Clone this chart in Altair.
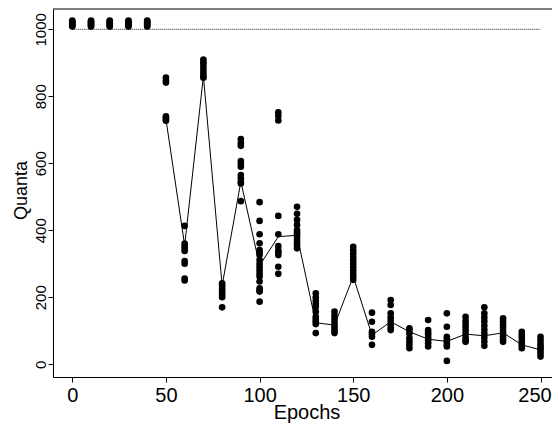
import altair as alt
import pandas as pd

# ---- data ----
epochs = [0, 10, 20, 30, 40, 50, 60, 70, 80, 90, 100, 110, 120, 130, 140,
          150, 160, 170, 180, 190, 200, 210, 220, 230, 240, 250]

quanta_runs = [
    [1008, 1011, 1014, 1017, 1020, 1023, 1026],
    [1008, 1011, 1014, 1017, 1020, 1023, 1026],
    [1008, 1011, 1014, 1017, 1020, 1023, 1026],
    [1008, 1011, 1014, 1017, 1020, 1023, 1026],
    [1008, 1011, 1014, 1017, 1020, 1023, 1026],
    [856, 848, 841, 740, 735, 731, 727],
    [413, 360, 352, 345, 338, 308, 300, 256, 250],
    [910, 902, 895, 885, 876, 868, 860, 855],
    [242, 235, 228, 221, 214, 207, 200, 170],
    [672, 660, 652, 607, 598, 590, 565, 555, 545, 540, 487],
    [484, 428, 388, 361, 341, 333, 326, 311, 300, 290, 280, 270, 262, 247, 227, 220, 217, 187],
    [752, 742, 728, 443, 388, 353, 340, 333, 326, 291, 270],
    [470, 449, 431, 416, 401, 394, 388, 381, 371, 362, 355, 346],
    [212, 200, 190, 180, 172, 157, 142, 135, 128, 120, 93],
    [157, 145, 135, 125, 115, 108, 100, 93],
    [351, 340, 330, 320, 310, 300, 290, 280, 270, 262, 252],
    [154, 127, 97, 90, 82, 58],
    [192, 177, 152, 140, 130, 120, 110, 102],
    [107, 100, 92, 78, 68, 58, 48],
    [132, 102, 95, 88, 80, 72, 63, 53],
    [152, 112, 82, 75, 68, 60, 53, 10],
    [142, 130, 120, 110, 100, 90, 80, 72, 67],
    [170, 152, 140, 128, 115, 103, 92, 80, 68, 55],
    [137, 128, 118, 110, 100, 92, 84, 75, 67],
    [97, 88, 80, 70, 62, 55, 48],
    [82, 72, 62, 55, 48, 40, 32, 23],
]

line_epochs = [50, 60, 70, 80, 90, 100, 110, 120, 130, 140, 150, 160, 170,
               180, 190, 200, 210, 220, 230, 240, 250]
line_values = [732, 355, 860, 235, 545, 295, 381, 385, 124, 117, 262, 87, 127,
               97, 75, 68, 90, 85, 94, 58, 43]

ref_level = 1000
ref_start, ref_end = 0, 250

x_ticks = [0, 50, 100, 150, 200, 250]
y_ticks = [0, 200, 400, 600, 800, 1000]

# ---- tables ----
pts = pd.DataFrame(
    [{"Epochs": e, "Quanta": v} for e, vals in zip(epochs, quanta_runs) for v in vals]
)
line_df = pd.DataFrame({"Epochs": line_epochs, "Quanta": line_values})
ref_df = pd.DataFrame({"x": [ref_start], "x2": [ref_end], "y": [ref_level]})

FONT = "Liberation Sans"
W, H = 507, 368

x_scale = alt.Scale(domain=[-10.3, 260.4], nice=False, zero=False)
y_scale = alt.Scale(domain=[-38, 1060.6], nice=False, zero=False)

x_axis = alt.Axis(
    values=x_ticks, format="d", title="Epochs", grid=False,
    domain=True, domainColor="black", domainWidth=1,
    tickSize=5, tickColor="black", labelColor="black",
    labelFont=FONT, labelFontSize=20, labelBaseline="alphabetic",
    labelPadding=19, labelFlush=False, labelOverlap=False,
    labelOffset=alt.condition("datum.value == 250", alt.value(-6), alt.value(0)),
    titleFont=FONT, titleFontSize=20, titleFontWeight="normal",
    titleColor="black", titleBaseline="alphabetic", titleY=41, titleX=253.5,
)
y_axis = alt.Axis(
    values=y_ticks, format="d", title="Quanta", grid=False,
    domain=True, domainColor="black", domainWidth=1,
    tickSize=5, tickColor="black", labelColor="black",
    labelFont=FONT, labelFontSize=15, labelAngle=270, labelAlign="center",
    labelBaseline="alphabetic", labelPadding=3, labelFlush=False,
    labelOverlap=False,
    titleFont=FONT, titleFontSize=18, titleFontWeight="normal",
    titleColor="black", titleAngle=270, titleAlign="center",
    titleBaseline="alphabetic", titleX=-27, titleY=181,
)

ref = alt.Chart(ref_df).mark_rule(
    color="#222222", strokeWidth=1, strokeDash=[1, 1]
).encode(
    x=alt.X("x:Q", scale=x_scale, axis=x_axis),
    x2="x2:Q",
    y=alt.Y("y:Q", scale=y_scale, axis=y_axis),
)

# top edge of the plot frame
top_edge = alt.Chart(ref_df).mark_rule(color="black", strokeWidth=1).encode(
    x=alt.value(0), x2=alt.value(W), y=alt.value(0)
)

line = alt.Chart(line_df).mark_line(color="black", strokeWidth=1).encode(
    x=alt.X("Epochs:Q", scale=x_scale, axis=x_axis),
    y=alt.Y("Quanta:Q", scale=y_scale, axis=y_axis),
)

points = alt.Chart(pts).mark_circle(color="black", opacity=1, size=44).encode(
    x=alt.X("Epochs:Q", scale=x_scale, axis=x_axis),
    y=alt.Y("Quanta:Q", scale=y_scale, axis=y_axis),
)

chart = alt.layer(ref, top_edge, line, points).properties(
    width=W,
    height=H,
    autosize=alt.AutoSizeParams(type="none"),
    padding={"left": 45, "top": 1, "right": -8, "bottom": 47},
    background="white",
).configure_view(stroke=None)

chart.save("out.html", embed_options={"renderer": "svg", "actions": False})
